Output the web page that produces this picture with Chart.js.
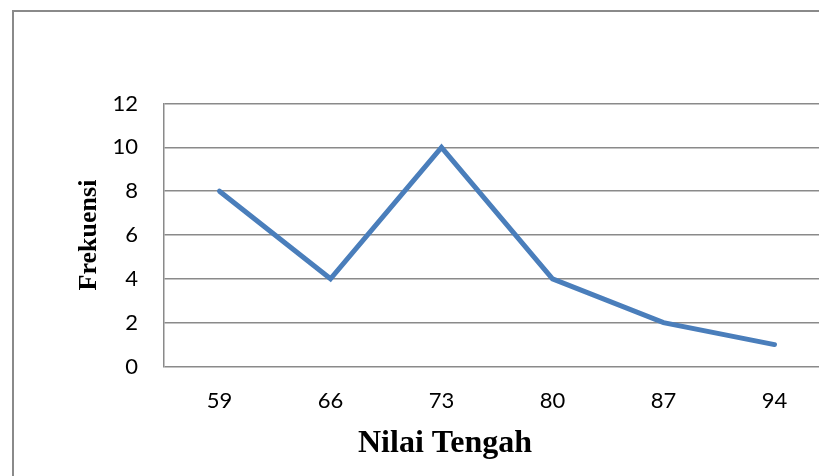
<!DOCTYPE html>
<html>
<head>
<meta charset="utf-8">
<script src="https://cdn.jsdelivr.net/npm/chart.js@4/dist/chart.umd.min.js"></script>
<style>
  html, body { margin: 0; padding: 0; width: 819px; height: 476px; overflow: hidden; background: #fff; }
  #frame { position: absolute; left: 12px; top: 10px; width: 900px; height: 600px; border: 2px solid #8a8a8a; box-sizing: border-box; }
  #wrap { position: absolute; left: 0; top: 0; width: 840px; height: 476px; }
</style>
</head>
<body>
<div id="frame"></div>
<div id="wrap"><canvas id="c" width="840" height="476"></canvas></div>
<script>
// Data
const categories = ['59', '66', '73', '80', '87', '94'];
const frekuensi = [8, 4, 10, 4, 2, 1];
const yTicks = [0, 2, 4, 6, 8, 10, 12];
const xTitle = 'Nilai Tengah';
const yTitle = 'Frekuensi';

const gridColor = '#8a8a8a';
const tickFont = { family: 'Lato', size: 22 };

const xTitlePlugin = {
  id: 'xTitle',
  afterDraw(chart) {
    const ctx = chart.ctx;
    ctx.save();
    ctx.font = 'bold 32px "Liberation Serif"';
    ctx.fillStyle = '#000';
    ctx.textAlign = 'center';
    ctx.textBaseline = 'alphabetic';
    ctx.fillText(xTitle, 445, 452);
    ctx.restore();
  }
};

new Chart(document.getElementById('c'), {
  type: 'line',
  data: {
    labels: categories,
    datasets: [{
      data: frekuensi,
      borderColor: '#4a7ebb',
      borderWidth: 5,
      borderCapStyle: 'round',
      borderJoinStyle: 'miter',
      pointRadius: 0,
      pointHoverRadius: 0,
      tension: 0,
      fill: false
    }]
  },
  options: {
    responsive: false,
    animation: false,
    events: [],
    layout: { padding: { top: 103.5, right: 10, bottom: 0, left: 0 } },
    plugins: { legend: { display: false }, tooltip: { enabled: false } },
    scales: {
      x: {
        type: 'category',
        offset: true,
        grid: { display: false, drawTicks: false },
        border: { display: false },
        ticks: { color: '#000', font: tickFont, padding: 21, maxRotation: 0 },
        afterFit(s) { s.height = 476 - 366.5; }
      },
      y: {
        min: 0,
        max: 12,
        afterBuildTicks(s) { s.ticks = yTicks.map(v => ({ value: v })); },
        grid: { color: gridColor, lineWidth: 1.5, drawTicks: false },
        border: { display: true, color: gridColor, width: 1.5 },
        ticks: { color: '#000', font: tickFont, padding: 26 },
        title: {
          display: true,
          text: yTitle,
          color: '#000',
          font: { family: 'Liberation Serif', size: 26, weight: 'bold' },
          padding: { top: 74, bottom: 0 }
        },
        afterFit(s) { s.width = 164; }
      }
    }
  },
  plugins: [xTitlePlugin]
});
</script>
</body>
</html>
